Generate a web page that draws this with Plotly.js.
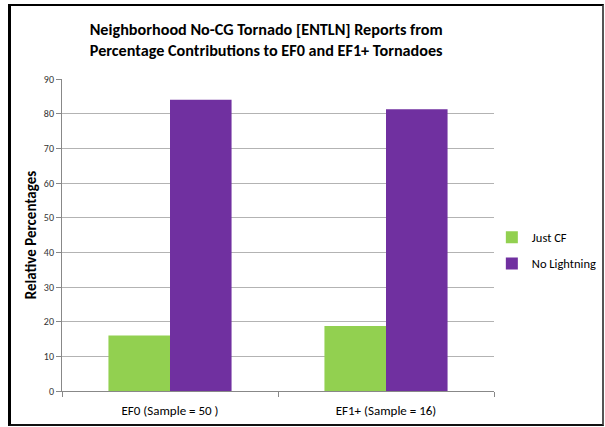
<!DOCTYPE html>
<html><head><meta charset="utf-8">
<script src="https://cdn.plot.ly/plotly-3.0.1.min.js"></script>
<style>
html,body{margin:0;padding:0;background:#fff;overflow:hidden;}
#wrap{position:relative;width:605px;height:427px;}
#chart{position:absolute;left:0;top:0;width:605px;height:427px;}
#frame{position:absolute;left:8px;top:4px;width:591px;height:418px;border-style:solid;border-color:#000 #555 #111 #000;border-width:2px 2px 2px 3px;pointer-events:none;}
</style></head>
<body><div id="wrap"><div id="chart"></div><div id="frame"></div></div>
<script>
const categories = ["EF0 (Sample = 50 )", "EF1+ (Sample = 16)"];
const justCF = [16, 18.75];
const noLightning = [84, 81.25];
const seriesNames = ["Just CF", "No Lightning"];
const yTicks = [0,10,20,30,40,50,60,70,80,90];

const fontFam = "Carlito, 'Liberation Sans Narrow', 'Open Sans', sans-serif";
const traces = [
  {type:'bar', name:seriesNames[0], legendgroup:'g1', x:categories, y:justCF, marker:{color:'#92D050'}},
  {type:'bar', name:seriesNames[1], legendgroup:'g2', x:categories, y:noLightning, marker:{color:'#7030A0'}}
];
const layout = {
  width:605, height:427,
  margin:{l:62, r:111, t:79, b:36, autoexpand:false},
  paper_bgcolor:'#fff', plot_bgcolor:'#fff',
  barmode:'group', bargap:0.43, bargroupgap:0,
  font:{family:fontFam, color:'#000'},
  title:{text:'<b>Neighborhood No-CG Tornado [ENTLN] Reports from<br>Percentage Contributions to EF0 and EF1+ Tornadoes</b>',
         x:0.44, xref:'container', xanchor:'center', y:0.918, yanchor:'middle', font:{size:16.2, family:fontFam, color:'#000'}},
  xaxis:{showgrid:false, showline:true, linecolor:'#888', linewidth:1, ticks:'outside', tickson:'boundaries',
         ticklen:5, tickcolor:'#888', tickfont:{size:13, color:'#000'}, ticklabelstandoff:7, automargin:false},
  yaxis:{range:[0,90], tickvals:yTicks, showgrid:true, gridcolor:'#b3b3b3', gridwidth:1,
         showline:true, linecolor:'#888', linewidth:1, ticks:'outside', ticklen:5, tickcolor:'#888',
         tickfont:{size:10, color:'#333'}, zeroline:false, automargin:false,
         title:{text:'<b>Relative Percentages</b>', font:{size:15, color:'#000'}, standoff:3}},
  legend:{x:0.995, xanchor:'left', y:0.45, yanchor:'middle', font:{size:12.5, color:'#000'},
          bgcolor:'rgba(0,0,0,0)', traceorder:'grouped', tracegroupgap:7, itemwidth:30},
  showlegend:true
};
Plotly.newPlot('chart', traces, layout, {displayModeBar:false, staticPlot:true});
</script></body></html>
